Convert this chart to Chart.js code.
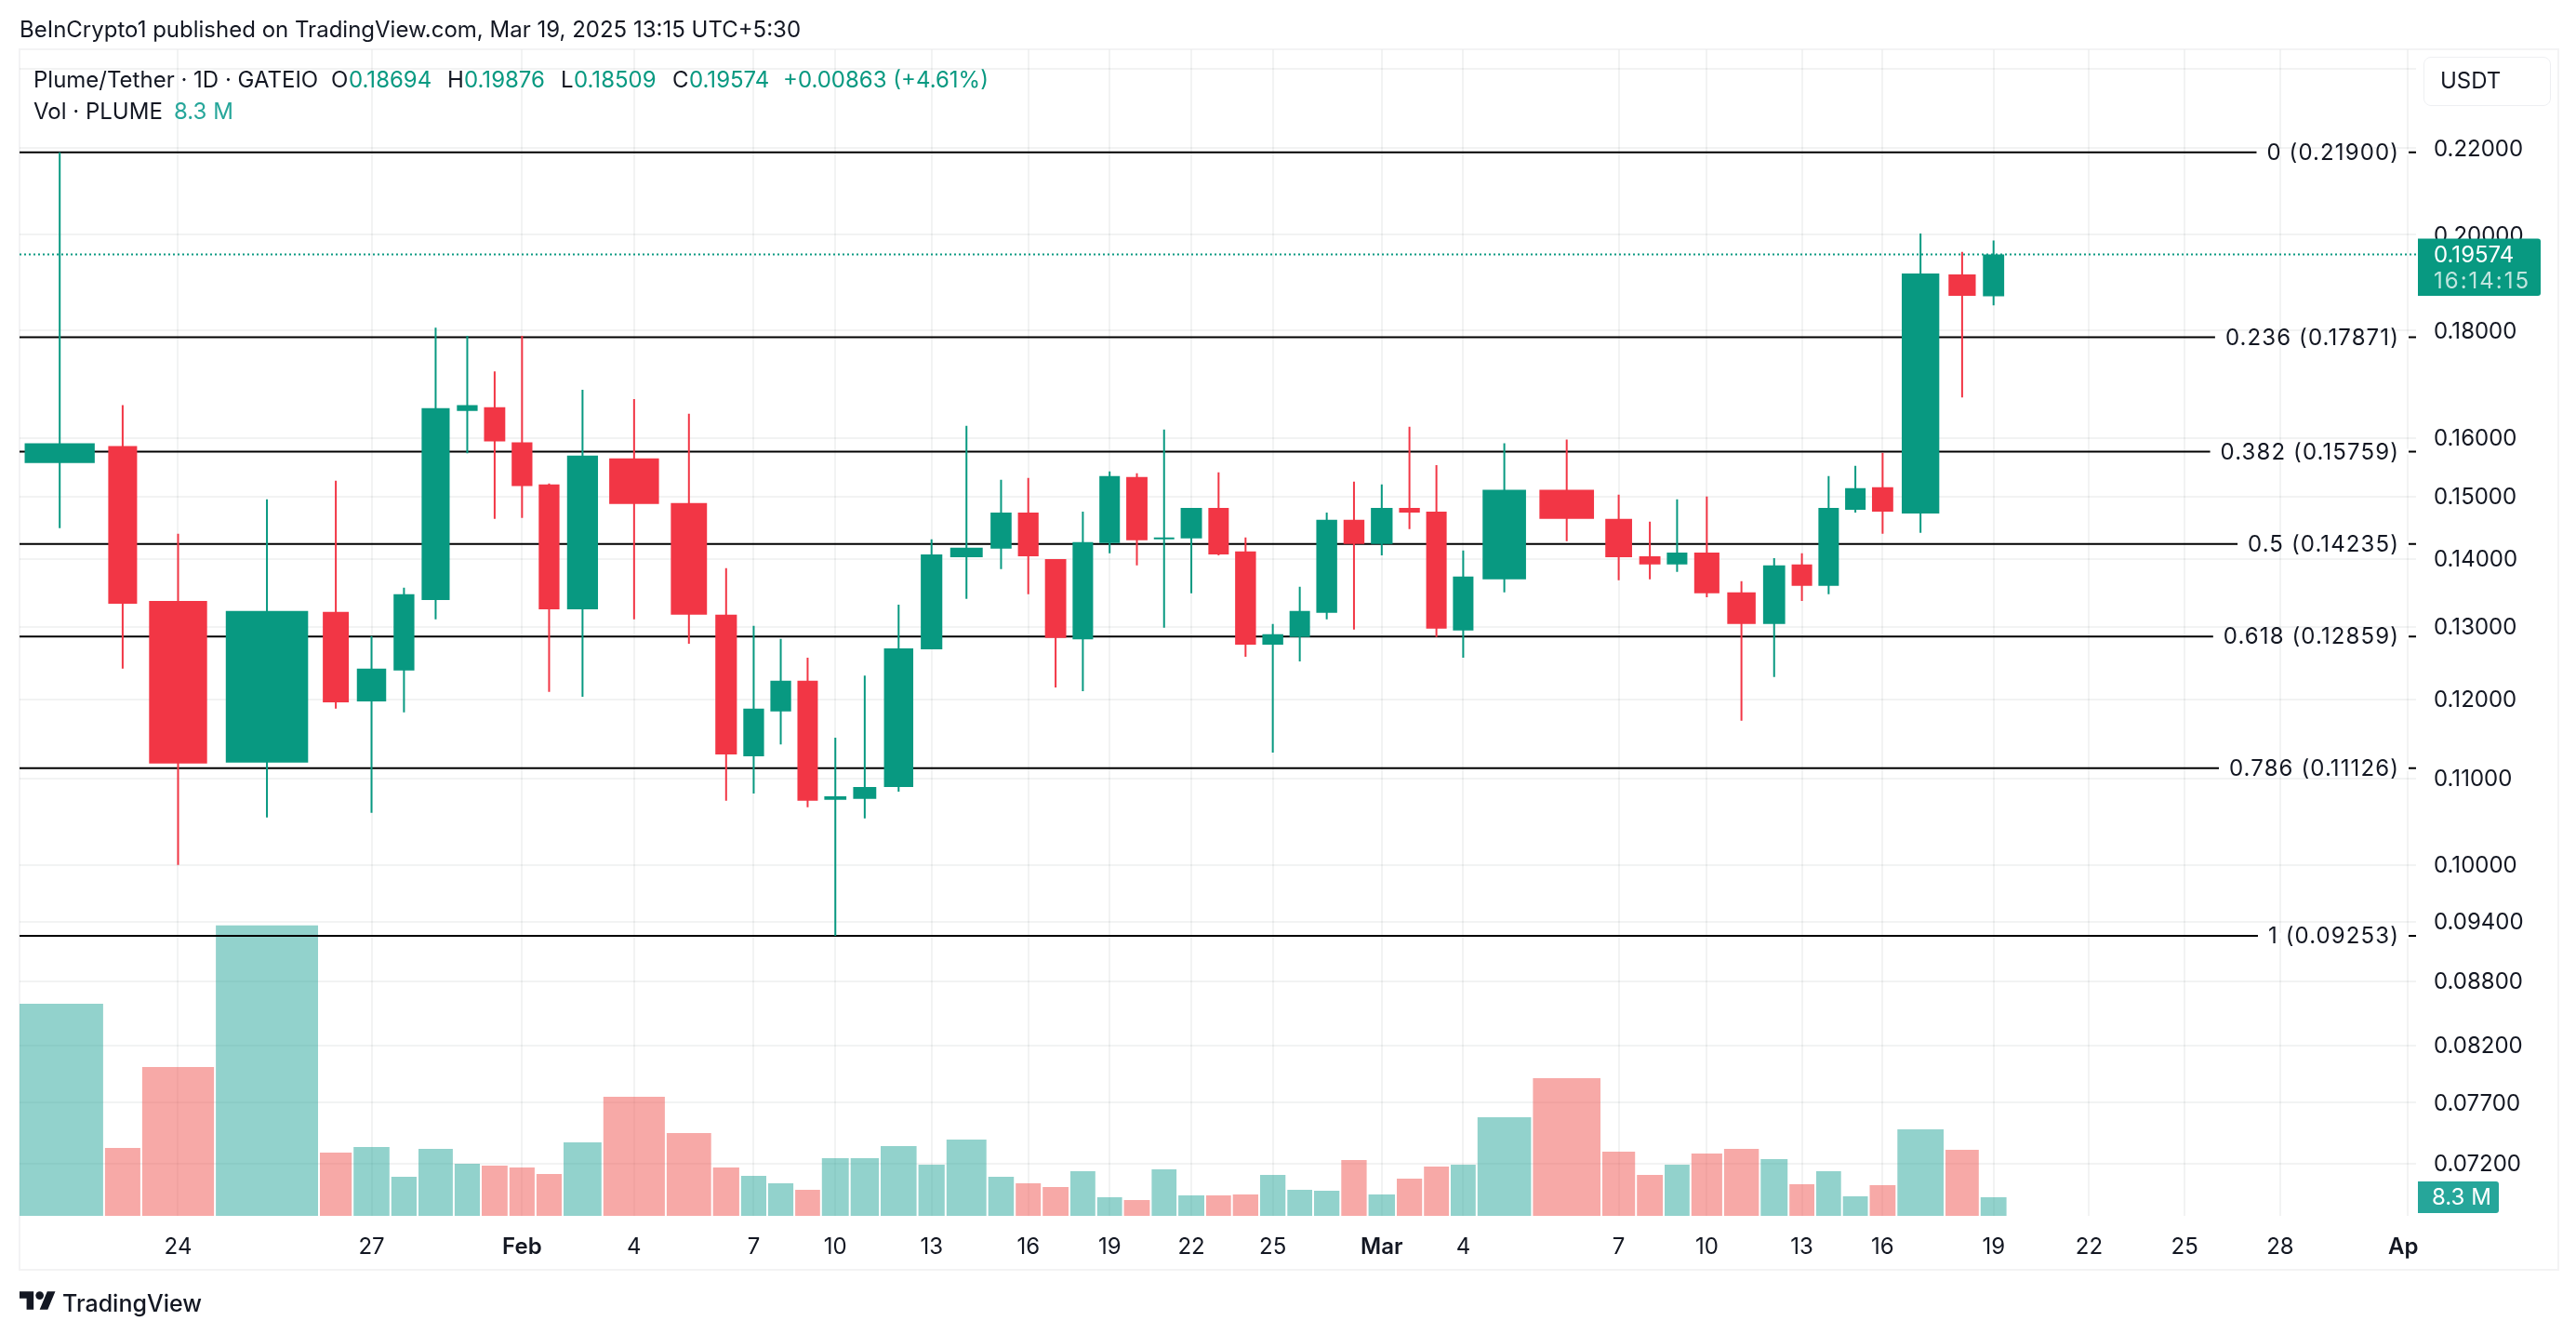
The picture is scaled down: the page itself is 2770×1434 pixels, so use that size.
<!DOCTYPE html>
<html>
<head>
<meta charset="utf-8">
<script src="https://cdn.jsdelivr.net/npm/chart.js@4/dist/chart.umd.min.js"></script>
<style>
    html, body { margin: 0; padding: 0; background: #fff; }
    body { width: 2770px; height: 1434px; position: relative; overflow: hidden; font-family: Inter, sans-serif; color: #131722; }
    #frame { position: absolute; left: 20px; top: 52px; width: 2728px; height: 1310px; border: 2px solid #f3f3f4; }
    canvas { position: absolute; left: 0; top: 0; }
    .txt { position: absolute; font-size: 24px; line-height: 32px; white-space: nowrap; }
    .val { color: #089981; }
    #usdt { position: absolute; left: 2606px; top: 61px; width: 135px; height: 51px; border: 1px solid #eeeff2; border-radius: 8px; }
    #logo { position: absolute; left: 21px; top: 1388px; width: 39px; height: 20px; }
</style>
</head>
<body>
<div id="frame"></div>
<canvas id="chart" width="2770" height="1434"></canvas>
<div class="txt" style="left:21px;top:16px">BeInCrypto1 published on TradingView.com, Mar 19, 2025 13:15 UTC+5:30</div>
<div class="txt" style="left:36px;top:70px">Plume/Tether · 1D · GATEIO</div>
<div class="txt" style="left:356px;top:70px">O</div><div class="txt val" style="left:375px;top:70px">0.18694</div>
<div class="txt" style="left:481px;top:70px">H</div><div class="txt val" style="left:499px;top:70px">0.19876</div>
<div class="txt" style="left:603px;top:70px">L</div><div class="txt val" style="left:617px;top:70px">0.18509</div>
<div class="txt" style="left:723px;top:70px">C</div><div class="txt val" style="left:741px;top:70px">0.19574</div>
<div class="txt val" style="left:842px;top:70px">+0.00863 (+4.61%)</div>
<div class="txt" style="left:36px;top:104px">Vol · PLUME</div>
<div class="txt" style="left:187px;top:104px;color:#26a69a">8.3 M</div>
<div id="usdt"></div>
<div class="txt" style="left:2624px;top:71px">USDT</div>
<svg id="logo" viewBox="0 4 36 18"><path d="M14 22H7V11H0V4h14v18zM28 22h-8l7.5-18h8L28 22z" fill="#131722"/><circle cx="20" cy="8" r="4" fill="#131722"/></svg>
<div class="txt" style="left:67px;top:1385px;font-weight:500;font-size:25px">TradingView</div>

<script>
    const dates = [
        'Jan 22', 'Jan 23', 'Jan 24', 'Jan 25', 'Jan 26', 'Jan 27', 'Jan 28', 'Jan 29', 'Jan 30', 'Jan 31',
        'Feb 1', 'Feb 2', 'Feb 3', 'Feb 4', 'Feb 5', 'Feb 6', 'Feb 7', 'Feb 8', 'Feb 9', 'Feb 10',
        'Feb 11', 'Feb 12', 'Feb 13', 'Feb 14', 'Feb 15', 'Feb 16', 'Feb 17', 'Feb 18', 'Feb 19', 'Feb 20',
        'Feb 21', 'Feb 22', 'Feb 23', 'Feb 24', 'Feb 25', 'Feb 26', 'Feb 27', 'Feb 28', 'Mar 1', 'Mar 2',
        'Mar 3', 'Mar 4', 'Mar 5', 'Mar 6', 'Mar 7', 'Mar 8', 'Mar 9', 'Mar 10', 'Mar 11', 'Mar 12',
        'Mar 13', 'Mar 14', 'Mar 15', 'Mar 16', 'Mar 17', 'Mar 18', 'Mar 19'
    ];
    const opens = [
        0.15560, 0.15853, 0.13373, 0.11193, 0.13211, 0.11973, 0.12387, 0.13387, 0.16480, 0.16548,
        0.15918, 0.15201, 0.13250, 0.15641, 0.14891, 0.13171, 0.11273, 0.11841, 0.12249, 0.10744,
        0.10755, 0.10898, 0.12679, 0.14031, 0.14163, 0.14737, 0.14002, 0.12818, 0.14251, 0.15326,
        0.14310, 0.14325, 0.14814, 0.14119, 0.12745, 0.12851, 0.13198, 0.14620, 0.14237, 0.14814,
        0.14752, 0.12944, 0.13694, 0.15109, 0.14634, 0.14045, 0.13918, 0.14104, 0.13498, 0.13038,
        0.13918, 0.13596, 0.14782, 0.15155, 0.14723, 0.19147, 0.18694
    ];
    const highs = [
        0.21900, 0.16583, 0.14399, 0.14953, 0.15263, 0.12865, 0.13568, 0.18061, 0.17898, 0.17211,
        0.17898, 0.15217, 0.16866, 0.16696, 0.16428, 0.13862, 0.13011, 0.12825, 0.12564, 0.11505,
        0.12317, 0.13317, 0.14310, 0.16212, 0.15279, 0.15310, 0.14002, 0.14752, 0.15418, 0.15387,
        0.16146, 0.14814, 0.15403, 0.14340, 0.13038, 0.13582, 0.14737, 0.15248, 0.15201, 0.16195,
        0.15527, 0.14134, 0.15902, 0.15967, 0.15031, 0.14590, 0.14953, 0.14999, 0.13666, 0.14016,
        0.14090, 0.15341, 0.15512, 0.15739, 0.20029, 0.19629, 0.19876
    ];
    const lows = [
        0.14487, 0.12413, 0.10002, 0.10539, 0.11877, 0.10593, 0.11829, 0.13104, 0.15731, 0.14634,
        0.14649, 0.12098, 0.12034, 0.13104, 0.12758, 0.10733, 0.10820, 0.11421, 0.10658, 0.09253,
        0.10528, 0.10841, 0.12679, 0.13401, 0.13848, 0.13470, 0.12159, 0.12110, 0.14090, 0.13904,
        0.12984, 0.13484, 0.14060, 0.12576, 0.11318, 0.12513, 0.13104, 0.12958, 0.14060, 0.14473,
        0.12851, 0.12564, 0.13498, 0.14281, 0.13680, 0.13694, 0.13806, 0.13428, 0.11721, 0.12299,
        0.13373, 0.13470, 0.14737, 0.14399, 0.14414, 0.16727, 0.18509
    ];
    const closes = [
        0.15902, 0.13331, 0.11182, 0.13224, 0.11961, 0.12413, 0.13470, 0.16531, 0.16583, 0.15935,
        0.15171, 0.13250, 0.15690, 0.14876, 0.13171, 0.11296, 0.11877, 0.12249, 0.10733, 0.10787,
        0.10898, 0.12692, 0.14075, 0.14178, 0.14737, 0.14045, 0.12838, 0.14266, 0.15341, 0.14296,
        0.14340, 0.14814, 0.14075, 0.12745, 0.12891, 0.13224, 0.14620, 0.14237, 0.14814, 0.14737,
        0.12971, 0.13736, 0.15109, 0.14634, 0.14031, 0.13918, 0.14104, 0.13484, 0.13038, 0.13904,
        0.13596, 0.14814, 0.15139, 0.14752, 0.19167, 0.18705, 0.19574
    ];
    // millions of PLUME
    const volumes = [
        94.6, 30.3, 66.4, 129.5, 28.2, 30.7, 17.4, 29.9, 23.2, 22.4,
        21.6, 18.7, 32.8, 53.1, 36.9, 21.6, 17.8, 14.5, 11.6, 25.7,
        25.7, 31.1, 22.8, 34.0, 17.4, 14.5, 12.9, 19.9, 8.3, 7.1,
        20.7, 9.1, 9.1, 9.5, 18.3, 11.6, 11.2, 24.9, 9.5, 16.6,
        22.0, 22.8, 44.0, 61.4, 28.6, 18.3, 22.8, 27.8, 29.9, 25.3,
        14.1, 19.9, 8.7, 13.7, 38.6, 29.5, 8.3
    ];

    const fibLevels = ['0', '0.236', '0.382', '0.5', '0.618', '0.786', '1'];
    const fibPrices = [0.21900, 0.17871, 0.15759, 0.14235, 0.12859, 0.11126, 0.09253];

    const priceTicks = [0.24, 0.22, 0.20, 0.18, 0.16, 0.15, 0.14, 0.13, 0.12, 0.11, 0.10, 0.094, 0.088, 0.082, 0.077, 0.072];
    const tickDates = ['Jan 24', 'Jan 27', 'Feb 1', 'Feb 4', 'Feb 7', 'Feb 10', 'Feb 13', 'Feb 16', 'Feb 19', 'Feb 22', 'Feb 25', 'Mar 1', 'Mar 4', 'Mar 7', 'Mar 10', 'Mar 13', 'Mar 16', 'Mar 19'];
    const tickLabels = ['24', '27', 'Feb', '4', '7', '10', '13', '16', '19', '22', '25', 'Mar', '4', '7', '10', '13', '16', '19'];
    const futureTickDays = [3, 6, 9, 13];
    const futureTickLabels = ['22', '25', '28', 'Apr'];
    const boldLabels = ['Feb', 'Mar', 'Apr'];

    // the published time axis is uneven, each day has its own width (1 axis unit = 1px)
    const dayWidth = [
        95.4, 40, 79.2, 111.9, 36.2, 40.6, 29.2, 38.9, 29.1, 29.8,
        29.1, 29.1, 42.8, 68.1, 49.8, 30.2, 29.1, 29.1, 28.7, 30.9,
        32.3, 40.6, 30.2, 44.9, 29.5, 29, 29.8, 28.8, 28.8, 29.8,
        28.7, 29.9, 28.7, 29.3, 29.3, 28.7, 29.3, 29.3, 30.4, 29.2,
        28.8, 28.8, 59.6, 74.6, 37.2, 29.8, 28.8, 35.1, 39.4, 30.9,
        28.8, 28.7, 28.8, 29.8, 51.7, 37.8, 29.8
    ];
    const futureDayWidth = 34.25;
    const axisMin = 4.5;
    const axisMax = 2581.5;

    const UP = '#089981';
    const DOWN = '#F23645';
    const VOL_UP = 'rgba(38, 166, 154, 0.5)';
    const VOL_DOWN = 'rgba(239, 83, 80, 0.5)';
    const GRID = 'rgba(42, 46, 57, 0.06)';
    const FONT = 'Inter, sans-serif';

    const centres = [];
    let edge = 0;
    dayWidth.forEach(w => {
        centres.push(edge + w / 2);
        edge += w;
    });

    const lastIndex = dates.length - 1;
    const isUp = i => closes[i] >= opens[i];

    const xTickValues = tickDates.map(d => centres[dates.indexOf(d)])
        .concat(futureTickDays.map(n => centres[lastIndex] + n * futureDayWidth));
    const xTickLabels = tickLabels.concat(futureTickLabels);

    const datasets = [];

    dates.forEach((d, i) => {
        datasets.push({
            type: 'bar',
            yAxisID: 'vol',
            data: [{ x: centres[i], y: volumes[i] }],
            backgroundColor: isUp(i) ? VOL_UP : VOL_DOWN,
            grouped: false,
            barPercentage: 100,
            maxBarThickness: dayWidth[i] - 2,
            order: 40
        });
        datasets.push({
            type: 'bar',
            yAxisID: 'y',
            data: [{ x: centres[i], y: [opens[i], closes[i]] }],
            backgroundColor: isUp(i) ? UP : DOWN,
            grouped: false,
            barPercentage: 100,
            maxBarThickness: dayWidth[i] * 0.8 - 1,
            order: 5
        });
    });

    datasets.push({
        type: 'bar',
        yAxisID: 'y',
        data: dates.map((d, i) => ({ x: centres[i], y: [lows[i], highs[i]] })),
        backgroundColor: dates.map((d, i) => isUp(i) ? UP : DOWN),
        grouped: false,
        barPercentage: 100,
        maxBarThickness: 2,
        order: 10
    });

    fibPrices.forEach(p => {
        datasets.push({
            type: 'line',
            yAxisID: 'y',
            data: [{ x: axisMin, y: p }, { x: axisMax, y: p }],
            borderColor: '#000',
            borderWidth: 2,
            pointRadius: 0,
            order: 30
        });
    });

    datasets.push({
        type: 'line',
        yAxisID: 'y',
        data: [{ x: axisMin, y: closes[lastIndex] }, { x: axisMax, y: closes[lastIndex] }],
        borderColor: UP,
        borderWidth: 2,
        borderDash: [2, 3],
        pointRadius: 0,
        order: 20
    });

    const priceLabels = {
        id: 'priceLabels',
        afterDatasetsDraw(chart) {
            const ctx = chart.ctx;
            const y = chart.scales.y;
            const right = chart.chartArea.right;

            ctx.save();
            ctx.font = '24px ' + FONT;
            ctx.letterSpacing = '1.1px';
            ctx.textBaseline = 'middle';
            ctx.textAlign = 'right';
            fibPrices.forEach((p, i) => {
                const label = fibLevels[i] + ' (' + p.toFixed(5) + ')';
                const py = y.getPixelForValue(p);
                const width = ctx.measureText(label).width;
                ctx.fillStyle = '#fff';
                ctx.fillRect(right - 18 - width - 11, py - 3, width + 21, 6);
                ctx.fillStyle = '#131722';
                ctx.fillText(label, right - 18, py + 1);
            });
            ctx.restore();
        },
        afterDraw(chart) {
            const ctx = chart.ctx;
            const right = chart.chartArea.right;
            const py = chart.scales.y.getPixelForValue(closes[lastIndex]);
            const vy = chart.scales.vol.getPixelForValue(volumes[lastIndex]);

            ctx.save();
            // the last time label runs off the pane
            ctx.fillStyle = '#fff';
            ctx.fillRect(right + 3, chart.chartArea.bottom + 10, 50, 46);

            ctx.fillStyle = UP;
            ctx.beginPath();
            ctx.roundRect(right + 2, py - 17, 132, 61.5, [0, 3, 3, 0]);
            ctx.fill();
            ctx.fillStyle = '#26a69a';
            ctx.beginPath();
            ctx.roundRect(right + 2, vy - 17, 87, 34, [0, 3, 3, 0]);
            ctx.fill();

            ctx.font = '24px ' + FONT;
            ctx.textBaseline = 'middle';
            ctx.textAlign = 'left';
            ctx.fillStyle = '#fff';
            ctx.fillText(closes[lastIndex].toFixed(5), right + 19, py + 1);
            ctx.fillText(volumes[lastIndex] + ' M', right + 17, vy + 1);
            ctx.fillStyle = 'rgba(255, 255, 255, 0.75)';
            ctx.letterSpacing = '2px';
            ctx.fillText('16:14:15', right + 19, py + 29);
            ctx.restore();
        }
    };

    new Chart(document.getElementById('chart').getContext('2d'), {
        type: 'bar',
        data: { datasets: datasets },
        plugins: [priceLabels],
        options: {
            responsive: false,
            devicePixelRatio: 1,
            animation: false,
            layout: { padding: { left: 21, top: 53.5, right: 0, bottom: 0 } },
            plugins: {
                legend: { display: false },
                tooltip: { enabled: false }
            },
            scales: {
                x: {
                    type: 'linear',
                    min: axisMin,
                    max: axisMax,
                    offset: false,
                    afterBuildTicks: scale => {
                        scale.ticks = xTickValues.map(v => ({ value: v }));
                    },
                    afterFit: scale => {
                        scale.height = 127;
                    },
                    grid: { color: GRID, lineWidth: 2, drawTicks: false, offset: false },
                    border: { display: false },
                    ticks: {
                        autoSkip: false,
                        maxRotation: 0,
                        minRotation: 0,
                        padding: 19,
                        color: '#131722',
                        font: ctx => ({
                            family: FONT,
                            size: 24,
                            weight: boldLabels.includes(xTickLabels[ctx.index]) ? '600' : '400'
                        }),
                        callback: (value, index) => xTickLabels[index]
                    }
                },
                y: {
                    type: 'logarithmic',
                    position: 'right',
                    min: 0.0680,
                    max: 0.24515,
                    afterBuildTicks: scale => {
                        scale.ticks = priceTicks.map(v => ({ value: v }));
                    },
                    afterFit: scale => {
                        scale.width = 172;
                    },
                    grid: { color: GRID, lineWidth: 2, drawTicks: false },
                    border: { display: false },
                    ticks: {
                        autoSkip: false,
                        padding: 19,
                        labelOffset: 1,
                        color: '#131722',
                        font: { family: FONT, size: 24 },
                        // 0.24 sits behind the currency button, only its grid line shows
                        callback: value => value === 0.24 ? '' : value.toFixed(5)
                    }
                },
                vol: {
                    type: 'linear',
                    display: false,
                    min: 0,
                    max: 520
                }
            }
        }
    });
</script>
</body>
</html>
